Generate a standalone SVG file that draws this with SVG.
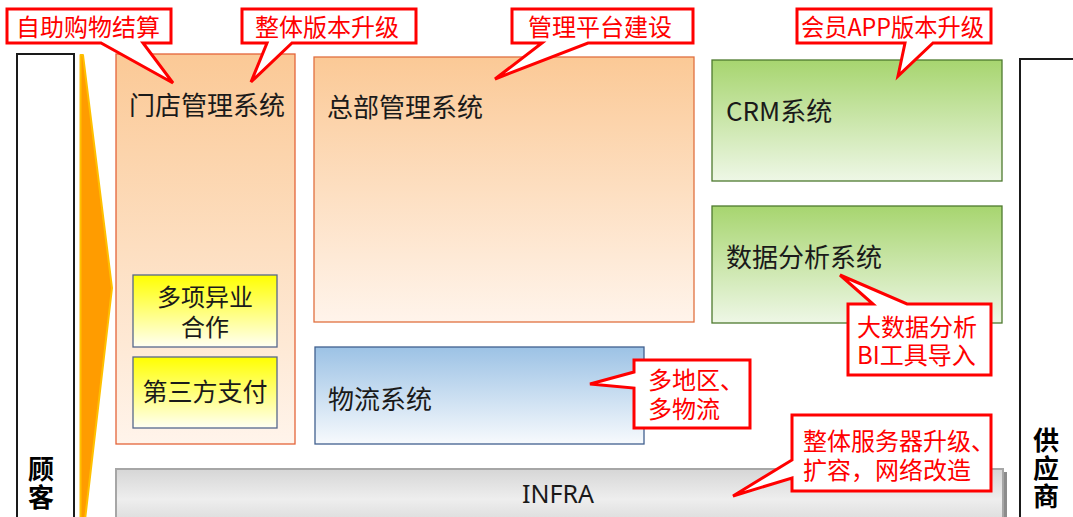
<svg xmlns="http://www.w3.org/2000/svg" width="1073" height="517" viewBox="0 0 1073 517">
<style>
.lbl{font-family:"Noto Sans CJK SC","Noto Sans",sans-serif;font-size:26px;fill:#1a1a1a}
.side{font-family:"Noto Sans CJK SC",sans-serif;font-size:26px;font-weight:bold;fill:#000;writing-mode:vertical-rl;text-orientation:upright;letter-spacing:2px}
.co{fill:#fff;stroke:#ff0000;stroke-width:3;stroke-linejoin:miter}
.cot{font-family:"Noto Sans CJK SC","Noto Sans",sans-serif;font-size:24px;fill:#ff0000}
.sm{font-family:"Noto Sans CJK SC",sans-serif;font-size:24px;fill:#1a1a1a;text-anchor:middle}
</style>
<defs>
<linearGradient id="gPeach" x1="0" y1="0" x2="0" y2="1"><stop offset="0" stop-color="#fbc996"/><stop offset="1" stop-color="#fff4eb"/></linearGradient>
<linearGradient id="gGreen" x1="0" y1="0" x2="0" y2="1"><stop offset="0" stop-color="#a7d56f"/><stop offset="1" stop-color="#eef7e6"/></linearGradient>
<linearGradient id="gBlue" x1="0" y1="0" x2="0" y2="1"><stop offset="0" stop-color="#9cc2e5"/><stop offset="1" stop-color="#f7fafd"/></linearGradient>
<linearGradient id="gYellow" x1="0" y1="0" x2="0" y2="1"><stop offset="0" stop-color="#ffff00"/><stop offset="1" stop-color="#fffff3"/></linearGradient>
<linearGradient id="gGray" x1="0" y1="0" x2="0" y2="1"><stop offset="0" stop-color="#d6d6d6"/><stop offset="0.55" stop-color="#eeeeee"/><stop offset="1" stop-color="#dadada"/></linearGradient>
</defs>

<g id="customer">
<rect x="17" y="54" width="57" height="470" fill="#fff" stroke="#1a1a1a" stroke-width="2"/>
<text class="side" x="41" y="456">顾客</text>
</g>
<g id="supplier">
<rect x="1020" y="59" width="60" height="470" fill="#fff" stroke="#1a1a1a" stroke-width="2"/>
<text class="side" x="1046" y="427">供应商</text>
</g>

<g id="connectors">
<polygon points="80.5,55 83,55 112,288 85,520 80.5,520" fill="#ff9c00" stroke="#ffc000" stroke-width="2" stroke-linejoin="round"/>
</g>

<g id="store-system">
<rect x="116" y="54" width="179" height="390" fill="url(#gPeach)" stroke="#e4643a" stroke-width="1.3"/>
<text class="lbl" x="129" y="115">门店管理系统</text>
</g>
<g id="multi-partner">
<rect x="133" y="275" width="144" height="72" fill="url(#gYellow)" stroke="#56688a" stroke-width="1.3"/>
<text class="sm" x="205" y="306">多项异业<tspan x="205" dy="30">合作</tspan></text>
</g>
<g id="third-party-pay">
<rect x="133" y="357" width="144" height="71" fill="url(#gYellow)" stroke="#56688a" stroke-width="1.3"/>
<text class="sm" x="205" y="401" style="font-size:25px">第三方支付</text>
</g>
<g id="hq-system">
<rect x="314" y="57" width="380" height="265" fill="url(#gPeach)" stroke="#e07040" stroke-width="1.3"/>
<text class="lbl" x="327" y="117">总部管理系统</text>
</g>
<g id="crm-system">
<rect x="712" y="60" width="290" height="121" fill="url(#gGreen)" stroke="#4e7a2e" stroke-width="1.3"/>
<text class="lbl" x="726" y="121">CRM系统</text>
</g>
<g id="data-system">
<rect x="712" y="206" width="290" height="117" fill="url(#gGreen)" stroke="#4e7a2e" stroke-width="1.3"/>
<text class="lbl" x="726" y="267">数据分析系统</text>
</g>
<g id="logistics-system">
<rect x="315" y="347" width="329" height="97" fill="url(#gBlue)" stroke="#41608f" stroke-width="1.3"/>
<text class="lbl" x="328" y="409">物流系统</text>
</g>
<g id="infra">
<rect x="1003" y="472" width="4" height="50" fill="#8c8c8c"/>
<rect x="116" y="469" width="887" height="55" fill="url(#gGray)" stroke="#a6a6a6" stroke-width="2"/>
<text x="558" y="503" text-anchor="middle" style="font-family:'Noto Sans','Liberation Sans',sans-serif;font-size:25px;fill:#1a1a1a">INFRA</text>
</g>

<g id="callouts">
<g id="callout-selfcheckout">
<path class="co" d="M7,9 H171 V43 H143 L173,83 L101,43 H7 Z"/>
<text class="cot" x="16" y="36">自助购物结算</text>
</g>
<g id="callout-version">
<path class="co" d="M242,9 H416 V43 H292 L251,82 L267,43 H242 Z"/>
<text class="cot" x="255" y="36">整体版本升级</text>
</g>
<g id="callout-platform">
<path class="co" d="M512,9 H693 V43 H588 L495,79 L542,43 H512 Z"/>
<text class="cot" x="528" y="36">管理平台建设</text>
</g>
<g id="callout-app">
<path class="co" d="M797,9 H991 V43 H933 L898,76 L905,43 H797 Z"/>
<text class="cot" x="801" y="36" textLength="183" lengthAdjust="spacingAndGlyphs">会员APP版本升级</text>
</g>
<g id="callout-logistics">
<path class="co" d="M634,360 H750 V428 H634 V388 L590,384 L634,372 Z"/>
<text class="cot" x="648" y="389">多地区、<tspan x="648" dy="29">多物流</tspan></text>
</g>
<g id="callout-bigdata">
<path class="co" d="M848,304 H873 L840,275 L907,304 H991 V375 H848 Z"/>
<text class="cot" x="857" y="336">大数据分析<tspan x="857" dy="28">BI工具导入</tspan></text>
</g>
<g id="callout-infra">
<path class="co" d="M792,415 H991 V491 H792 V478 L733,496 L792,460 Z"/>
<text class="cot" x="803" y="450">整体服务器升级、<tspan x="803" dy="29">扩容，网络改造</tspan></text>
</g>
</g>
</svg>
